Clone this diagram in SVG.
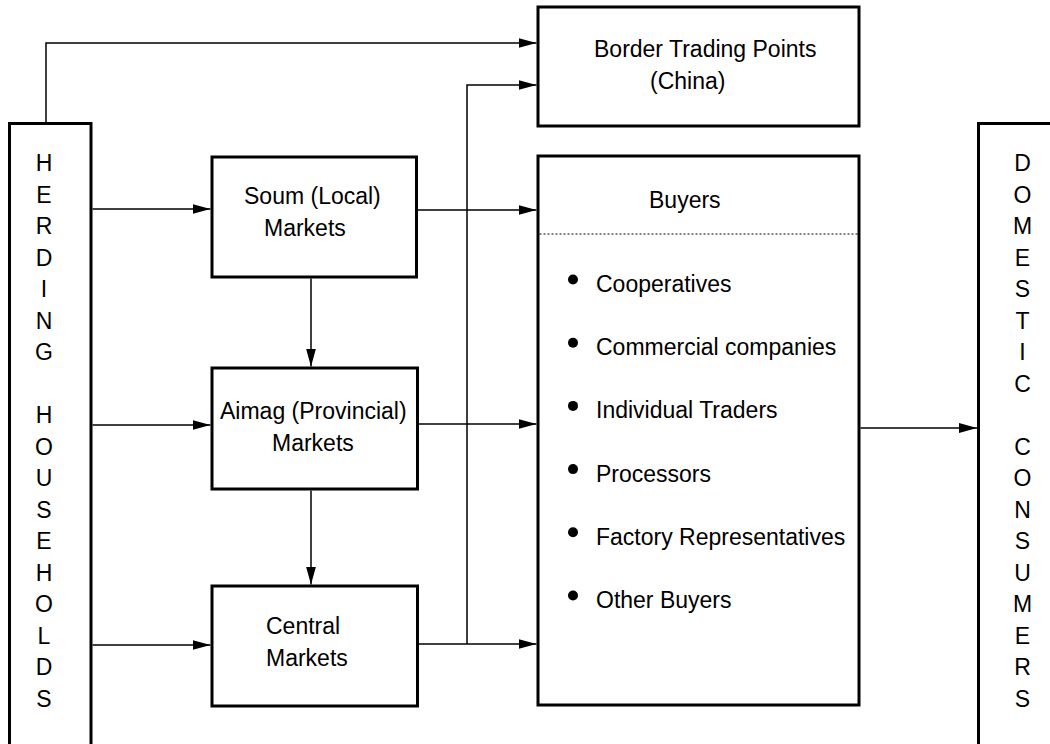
<svg xmlns="http://www.w3.org/2000/svg" width="1050" height="744" viewBox="0 0 1050 744">
<style>
  .box { fill: #fff; stroke: #000; stroke-width: 3; }
  .conn { fill: none; stroke: #000; stroke-width: 1.5; }
  .t { font-family: "Liberation Sans", Arial, sans-serif; font-size: 23px; fill: #000; }
  .v { font-family: "Liberation Sans", Arial, sans-serif; font-size: 23px; fill: #000; text-anchor: middle; }
</style>
<defs>
  <marker id="arr" markerUnits="userSpaceOnUse" markerWidth="18" markerHeight="10" refX="18" refY="5" orient="auto">
    <path d="M0,0 L18,5 L0,10 z" fill="#000"/>
  </marker>
</defs>
<rect width="1050" height="744" fill="#fff"/>

<g id="herding">
  <rect class="box" x="9.5" y="123.5" width="81.5" height="640"/>
  <text class="v" x="44" y="171">H</text>
  <text class="v" x="44" y="202.5">E</text>
  <text class="v" x="44" y="234">R</text>
  <text class="v" x="44" y="265.5">D</text>
  <text class="v" x="44" y="297">I</text>
  <text class="v" x="44" y="328.5">N</text>
  <text class="v" x="44" y="360">G</text>
  <text class="v" x="44" y="423">H</text>
  <text class="v" x="44" y="454.5">O</text>
  <text class="v" x="44" y="486">U</text>
  <text class="v" x="44" y="517.5">S</text>
  <text class="v" x="44" y="549">E</text>
  <text class="v" x="44" y="580.5">H</text>
  <text class="v" x="44" y="612">O</text>
  <text class="v" x="44" y="643.5">L</text>
  <text class="v" x="44" y="675">D</text>
  <text class="v" x="44" y="706.5">S</text>
</g>

<g id="domestic">
  <rect class="box" x="978.5" y="123.5" width="100" height="640"/>
  <text class="v" x="1022.5" y="171">D</text>
  <text class="v" x="1022.5" y="202.5">O</text>
  <text class="v" x="1022.5" y="234">M</text>
  <text class="v" x="1022.5" y="265.5">E</text>
  <text class="v" x="1022.5" y="297">S</text>
  <text class="v" x="1022.5" y="328.5">T</text>
  <text class="v" x="1022.5" y="360">I</text>
  <text class="v" x="1022.5" y="391.5">C</text>
  <text class="v" x="1022.5" y="454.5">C</text>
  <text class="v" x="1022.5" y="486">O</text>
  <text class="v" x="1022.5" y="517.5">N</text>
  <text class="v" x="1022.5" y="549">S</text>
  <text class="v" x="1022.5" y="580.5">U</text>
  <text class="v" x="1022.5" y="612">M</text>
  <text class="v" x="1022.5" y="643.5">E</text>
  <text class="v" x="1022.5" y="675">R</text>
  <text class="v" x="1022.5" y="706.5">S</text>
</g>

<g id="soum">
  <rect class="box" x="212" y="157" width="204.5" height="120"/>
  <text class="t" x="244" y="204">Soum (Local)</text>
  <text class="t" x="264" y="236">Markets</text>
</g>

<g id="aimag">
  <rect class="box" x="212" y="368" width="205.5" height="121"/>
  <text class="t" x="220" y="419">Aimag (Provincial)</text>
  <text class="t" x="272" y="451">Markets</text>
</g>

<g id="central">
  <rect class="box" x="212" y="586" width="205.5" height="120"/>
  <text class="t" x="266" y="634">Central</text>
  <text class="t" x="266" y="666">Markets</text>
</g>

<g id="border">
  <rect class="box" x="538" y="7" width="321" height="119"/>
  <text class="t" x="594" y="57">Border Trading Points</text>
  <text class="t" x="650" y="89">(China)</text>
</g>

<g id="buyers">
  <rect class="box" x="538" y="156" width="321" height="549"/>
  <text class="t" x="649" y="208">Buyers</text>
  <line x1="539.5" y1="234" x2="857.5" y2="234" stroke="#000" stroke-width="1" stroke-dasharray="2,2"/>
  <circle cx="573" cy="279.5" r="5"/>
  <text class="t" x="596" y="292">Cooperatives</text>
  <circle cx="573" cy="342.7" r="5"/>
  <text class="t" x="596" y="355.2">Commercial companies</text>
  <circle cx="573" cy="405.9" r="5"/>
  <text class="t" x="596" y="418.4">Individual Traders</text>
  <circle cx="573" cy="469.1" r="5"/>
  <text class="t" x="596" y="481.6">Processors</text>
  <circle cx="573" cy="532.3" r="5"/>
  <text class="t" x="596" y="544.8">Factory Representatives</text>
  <circle cx="573" cy="595.5" r="5"/>
  <text class="t" x="596" y="608">Other Buyers</text>
</g>

<g id="connectors">
  <path class="conn" d="M46,122 V43 H536.5" marker-end="url(#arr)"/>
  <path class="conn" d="M92.5,209 H210.5" marker-end="url(#arr)"/>
  <path class="conn" d="M92.5,425 H210.5" marker-end="url(#arr)"/>
  <path class="conn" d="M92.5,645 H210.5" marker-end="url(#arr)"/>
  <path class="conn" d="M311,278.5 V366.5" marker-end="url(#arr)"/>
  <path class="conn" d="M311,490.5 V584.5" marker-end="url(#arr)"/>
  <path class="conn" d="M418,210 H536.5" marker-end="url(#arr)"/>
  <path class="conn" d="M419,424 H536.5" marker-end="url(#arr)"/>
  <path class="conn" d="M419,644 H536.5" marker-end="url(#arr)"/>
  <path class="conn" d="M467,644 V85 H536.5" marker-end="url(#arr)" stroke-width="1.2"/>
  <path class="conn" d="M860.5,428 H977" marker-end="url(#arr)"/>
</g>
</svg>
